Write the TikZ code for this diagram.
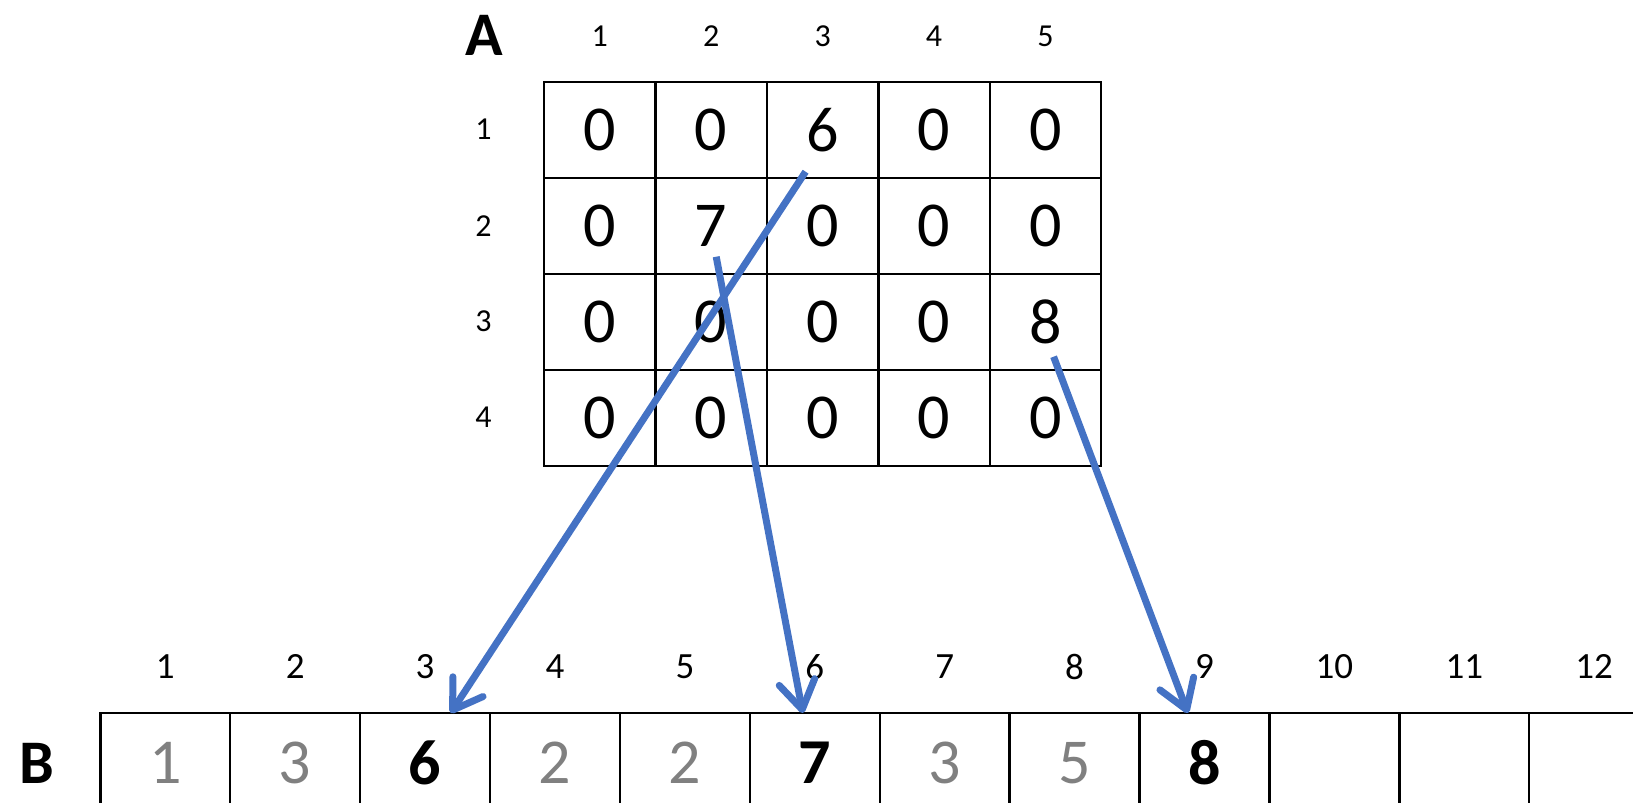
\documentclass[tikz,border=0pt]{standalone}
\usepackage{fontspec}
\setmainfont{Carlito}
\usetikzlibrary{positioning,arrows.meta}
\definecolor{arrowblue}{HTML}{4472C4}
\definecolor{fadednum}{HTML}{808080}

\begin{document}
\begin{tikzpicture}[x=0.5pt, y=-0.5pt, >=stealth]
  % Define styles
  \tikzstyle{cell}=[draw=black, line width=1.2pt, inner sep=0pt, outer sep=0pt, minimum width=55.7pt, minimum height=48pt, font=\fontsize{32}{32}\selectfont]
  \tikzstyle{slot}=[draw=black, line width=1.2pt, inner sep=0pt, outer sep=0pt, minimum width=64.95pt, minimum height=50pt, font=\fontsize{32}{32}\selectfont]
  \tikzstyle{faded}=[text=fadednum]
  \tikzstyle{picked}=[font=\fontsize{32}{32}\selectfont\bfseries]
  \tikzstyle{idx}=[inner sep=0pt, font=\fontsize{16}{16}\selectfont]
  \tikzstyle{bidx}=[inner sep=0pt, font=\fontsize{18.5}{18.5}\selectfont]
  \tikzstyle{title}=[inner sep=0pt, font=\fontsize{31}{31}\selectfont\bfseries]
  \tikzstyle{link}=[-{Straight Barb[length=14pt, width=18pt, round]}, draw=arrowblue, line width=3.5pt]

  \useasboundingbox (0,0) rectangle (1633,803);
  \clip (0,0) rectangle (1633,803);

  % Matrix A
  \node[cell] (a11) at (599.8,129.7) {0};
  \node[cell, right=0pt of a11] (a12) {0};
  \node[cell, right=0pt of a12] (a13) {6};
  \node[cell, right=0pt of a13] (a14) {0};
  \node[cell, right=0pt of a14] (a15) {0};
  \node[cell, below=0pt of a11] (a21) {0};
  \node[cell, right=0pt of a21] (a22) {7};
  \node[cell, right=0pt of a22] (a23) {0};
  \node[cell, right=0pt of a23] (a24) {0};
  \node[cell, right=0pt of a24] (a25) {0};
  \node[cell, below=0pt of a21] (a31) {0};
  \node[cell, right=0pt of a31] (a32) {0};
  \node[cell, right=0pt of a32] (a33) {0};
  \node[cell, right=0pt of a33] (a34) {0};
  \node[cell, right=0pt of a34] (a35) {8};
  \node[cell, below=0pt of a31] (a41) {0};
  \node[cell, right=0pt of a41] (a42) {0};
  \node[cell, right=0pt of a42] (a43) {0};
  \node[cell, right=0pt of a43] (a44) {0};
  \node[cell, right=0pt of a44] (a45) {0};

  % Indices of A
  \node[title] (nameA) at (484,35) {A};
  \node[idx] (col1) at (599.8,36) {1};
  \node[idx] (col2) at (711.2,36) {2};
  \node[idx] (col3) at (822.6,36) {3};
  \node[idx] (col4) at (934.0,36) {4};
  \node[idx] (col5) at (1045.4,36) {5};
  \node[idx] (row1) at (483.4,129.7) {1};
  \node[idx] (row2) at (483.4,225.7) {2};
  \node[idx] (row3) at (483.4,321.7) {3};
  \node[idx] (row4) at (483.4,417.7) {4};

  % Array B
  \node[title] (nameB) at (36.6,763) {B};
  \node[slot, faded] (b1) at (165.3,763) {1};
  \node[slot, faded, right=0pt of b1] (b2) {3};
  \node[slot, picked, right=0pt of b2] (b3) {6};
  \node[slot, faded, right=0pt of b3] (b4) {2};
  \node[slot, faded, right=0pt of b4] (b5) {2};
  \node[slot, picked, right=0pt of b5] (b6) {7};
  \node[slot, faded, right=0pt of b6] (b7) {3};
  \node[slot, faded, right=0pt of b7] (b8) {5};
  \node[slot, picked, right=0pt of b8] (b9) {8};
  \node[slot, right=0pt of b9] (b10) {};
  \node[slot, right=0pt of b10] (b11) {};
  \node[slot, right=0pt of b11] (b12) {};

  % Indices of B
  \node[bidx] (pos1) at (165.3,666.7) {1};
  \node[bidx] (pos2) at (295.2,666.7) {2};
  \node[bidx] (pos3) at (425.1,666.7) {3};
  \node[bidx] (pos4) at (555.0,666.7) {4};
  \node[bidx] (pos5) at (684.9,666.7) {5};
  \node[bidx] (pos6) at (814.8,666.7) {6};
  \node[bidx] (pos7) at (944.7,666.7) {7};
  \node[bidx] (pos8) at (1074.6,666.7) {8};
  \node[bidx] (pos9) at (1204.5,666.7) {9};
  \node[bidx] (pos10) at (1334.4,666.7) {10};
  \node[bidx] (pos11) at (1464.3,666.7) {11};
  \node[bidx] (pos12) at (1594.2,666.7) {12};

  % Copies
  \draw[link] ([xshift=-8.5pt, yshift=-21pt]a13.center) -- ([xshift=12.8pt]b3.north);
  \draw[link] ([xshift=2.5pt, yshift=-15.5pt]a22.center) -- ([xshift=-6pt]b6.north);
  \draw[link] ([xshift=4.1pt, yshift=-17.5pt]a35.center) -- ([xshift=-8.3pt]b9.north);
\end{tikzpicture}
\end{document}
